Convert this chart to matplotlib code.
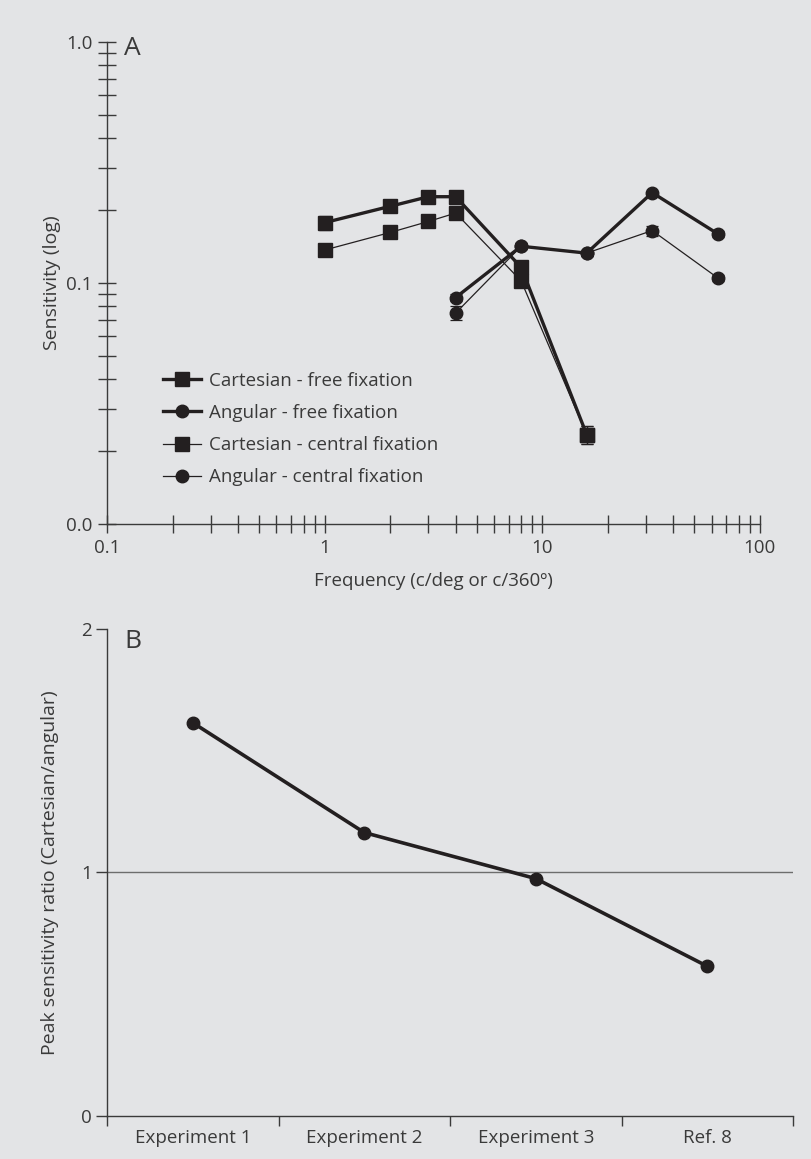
import numpy as np
import matplotlib
matplotlib.use('Agg')
import matplotlib.pyplot as plt
from matplotlib.ticker import FixedLocator, FixedFormatter, LogLocator, NullFormatter

plt.rcParams['font.family'] = ['Open Sans', 'DejaVu Sans']

# Panel A data (spatial frequency vs sensitivity)
cart_freq = [1, 2, 3, 4, 8, 16]
cart_free = [0.178, 0.208, 0.228, 0.228, 0.116, 0.0235]
cart_free_err = [0.012, 0.005, 0.004, 0.004, 0.004, 0.002]
cart_central = [0.137, 0.162, 0.180, 0.195, 0.102, 0.0235]
cart_central_err = [0.003, 0.006, 0.003, 0.004, 0.004, 0.002]

ang_freq = [4, 8, 16, 32, 64]
ang_free = [0.087, 0.142, 0.133, 0.237, 0.160]
ang_free_err = [0.003, 0.004, 0.003, 0.004, 0.005]
ang_central = [0.075, 0.142, 0.133, 0.165, 0.105]
ang_central_err = [0.005, 0.003, 0.003, 0.008, 0.003]

# Panel B data
experiments = ['Experiment 1', 'Experiment 2', 'Experiment 3', 'Ref. 8']
peak_ratio = [1.615, 1.164, 0.975, 0.615]

BG = '#e3e4e6'
INK = '#231f20'
TXT = '#3a3a3a'
FS = 13.5

fig = plt.figure(figsize=(8.12, 11.59), dpi=100, facecolor=BG)

# ---------------- Panel A ----------------
ax = fig.add_axes([0.1318, 0.5479, 0.804, 0.4159], facecolor=BG)
ax.set_xscale('log')
ax.set_yscale('log')

series = [
    (cart_freq, cart_free, cart_free_err, 2.4, 's', 'Cartesian - free fixation', 4),
    (ang_freq, ang_free, ang_free_err, 2.4, 'o', 'Angular - free fixation', 4),
    (cart_freq, cart_central, cart_central_err, 0.9, 's', 'Cartesian - central fixation', 3),
    (ang_freq, ang_central, ang_central_err, 0.9, 'o', 'Angular - central fixation', 3),
]
for xs, ys, err, lw, mk, lab, z in series:
    ax.errorbar(xs, ys, yerr=err, fmt='none', ecolor=INK, elinewidth=0.9,
                capsize=4.5, capthick=0.9, zorder=z - 1)
    ax.plot(xs, ys, color=INK, lw=lw, marker=mk,
            ms=9.5 if mk == 's' else 9, label=lab, zorder=z)

ax.set_xlim(0.1, 100)
ax.set_ylim(0.01, 1.0)
for s in ['top', 'right']:
    ax.spines[s].set_visible(False)
for s in ['left', 'bottom']:
    ax.spines[s].set_color(TXT)
    ax.spines[s].set_linewidth(1.0)

ax.yaxis.set_major_locator(FixedLocator([0.01, 0.1, 1.0]))
ax.yaxis.set_major_formatter(FixedFormatter(['0.0', '0.1', '1.0']))
ax.yaxis.set_minor_locator(LogLocator(base=10, subs=np.arange(2, 10)))
ax.yaxis.set_minor_formatter(NullFormatter())
ax.xaxis.set_major_locator(FixedLocator([0.1, 1, 10, 100]))
ax.xaxis.set_major_formatter(FixedFormatter(['0.1', '1', '10', '100']))
ax.xaxis.set_minor_locator(LogLocator(base=10, subs=np.arange(2, 10)))
ax.xaxis.set_minor_formatter(NullFormatter())

ax.tick_params(which='both', direction='inout', length=13, width=1.0,
               color=TXT, labelsize=FS, labelcolor=TXT)
ax.tick_params(axis='x', which='both', pad=4)
ax.tick_params(axis='y', which='both', pad=4)

ax.set_ylabel('Sensitivity (log)', fontsize=14, color=TXT, labelpad=4)
ax.set_xlabel('Frequency (c/deg or c/360º)', fontsize=FS, color=TXT, labelpad=11)
ax.text(0.026, 1.012, 'A', transform=ax.transAxes, fontsize=19, color=TXT,
        va='top', ha='left')

leg = ax.legend(loc='upper left', bbox_to_anchor=(0.086, 0.316), frameon=False,
                fontsize=FS, handlelength=2.0, handletextpad=0.45,
                labelspacing=0.76, borderpad=0, borderaxespad=0)
for t in leg.get_texts():
    t.set_color(TXT)

# ---------------- Panel B ----------------
bx = fig.add_axes([0.1318, 0.0371, 0.8448, 0.4202], facecolor=BG)
xpos = np.arange(len(experiments)) + 0.5
bx.axhline(1, color='#6d6d6d', lw=1.0, zorder=1)
bx.plot(xpos, peak_ratio, color=INK, lw=2.6, marker='o', ms=9, zorder=3)

bx.set_xlim(0, len(experiments))
bx.set_ylim(0, 2)
for s in ['top', 'right']:
    bx.spines[s].set_visible(False)
for s in ['left', 'bottom']:
    bx.spines[s].set_color(TXT)
    bx.spines[s].set_linewidth(1.0)

bx.set_yticks([0, 1, 2])
bx.set_xticks(np.arange(len(experiments) + 1))
bx.set_xticklabels([])
bx.set_xticks(xpos, minor=True)
bx.set_xticklabels(experiments, minor=True)
bx.tick_params(axis='x', which='minor', length=0, labelsize=FS,
               labelcolor=TXT, pad=9)
bx.tick_params(axis='x', which='major', direction='out', length=7, width=1.0,
               color=TXT)
bx.tick_params(axis='y', direction='out', length=8, width=1.0, color=TXT,
               labelsize=FS, labelcolor=TXT, pad=3)

bx.set_ylabel('Peak sensitivity ratio (Cartesian/angular)', fontsize=14,
              color=TXT, labelpad=16)
bx.text(0.026, 1.0, 'B', transform=bx.transAxes, fontsize=19, color=TXT,
        va='top', ha='left')

fig.savefig('out.png', dpi=100, facecolor=BG)
